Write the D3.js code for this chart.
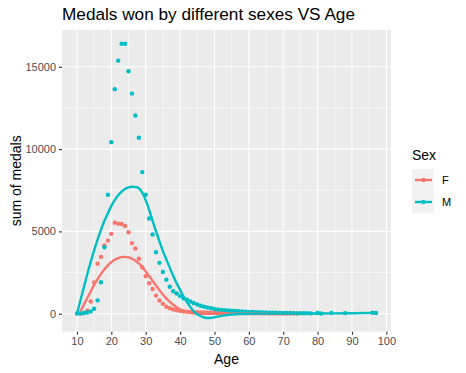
<!DOCTYPE html>
<html>
<head>
<meta charset="utf-8">
<script src="https://cdn.jsdelivr.net/npm/d3@7"></script>
<style>
  body { margin: 0; background: #fff; }
  text { font-family: "Liberation Sans", Arial, sans-serif; }
</style>
</head>
<body>
<div id="chart"></div>
<script>
// Data
//= ================================
var sexes = ["F", "M"];
var colors = ["#F8766D", "#00BFC4"];

var agesF = [11, 12, 13, 14, 15, 16, 17, 18, 19, 20, 21, 22, 23, 24, 25, 26, 27, 28, 29, 30,
  31, 32, 33, 34, 35, 36, 37, 38, 39, 40, 41, 42, 43, 44, 45, 46, 47, 48, 49, 50,
  51, 52, 53, 54, 55, 56, 57, 58, 59, 60, 61, 62, 63, 64, 65, 66, 67, 68, 69, 70, 71, 72, 73, 74];
var medalsF = [10, 40, 180, 745, 1900, 3030, 3450, 4150, 4440, 4850, 5530, 5470, 5450, 5330, 4950, 4290, 3960, 3340, 2820, 2280,
  1850, 1500, 1100, 800, 600, 430, 330, 260, 210, 170, 140, 120, 105, 95, 85, 75, 70, 65, 60, 55,
  50, 48, 45, 42, 40, 38, 35, 33, 30, 28, 26, 24, 22, 20, 18, 16, 15, 14, 12, 10, 10, 8, 8, 6];

var agesM = [10, 11, 12, 13, 14, 15, 16, 17, 18, 19, 20, 21, 22, 23, 24, 25, 26, 27, 28, 29, 30,
  31, 32, 33, 34, 35, 36, 37, 38, 39, 40, 41, 42, 43, 44, 45, 46, 47, 48, 49, 50,
  51, 52, 53, 54, 55, 56, 57, 58, 59, 60, 61, 62, 63, 64, 65, 66, 67, 68, 69, 70,
  71, 72, 73, 74, 75, 76, 77, 78, 80, 81, 84, 88, 96, 97];
var medalsM = [10, 20, 40, 70, 130, 300, 810, 1910, 4040, 7230, 10420, 13640, 15370, 16400, 16400, 14730, 13370, 12040, 10690, 8600, 7230,
  5780, 4810, 3730, 3090, 2530, 2070, 1640, 1360, 1230, 1070, 930, 850, 745, 640, 560, 485, 425, 380, 330, 290,
  260, 235, 215, 195, 175, 160, 145, 130, 120, 110, 100, 90, 85, 80, 75, 65, 60, 55, 50, 45,
  40, 40, 35, 30, 30, 25, 35, 20, 40, 15, 45, 35, 60, 45];

// smoothed (loess) curves as drawn
var smoothAgesF = [11, 12, 13, 14, 15, 16, 17, 18, 19, 20, 21, 22, 23, 24, 25, 26, 27, 28, 29, 30,
  31, 32, 33, 34, 35, 36, 37, 38, 39, 40, 41, 42, 43, 44, 45, 46, 47, 48, 50, 55, 60, 65, 70, 74];
var smoothF = [150, 550, 950, 1350, 1750, 2100, 2420, 2700, 2940, 3130, 3280, 3380, 3440, 3450, 3420, 3340, 3220, 3050, 2830, 2570,
  2290, 2000, 1710, 1430, 1170, 930, 720, 540, 390, 270, 180, 110, 60, 25, 5, -5, -10, -10, -5, 5, 10, 10, 5, 5];

var smoothAgesM = [10, 11, 12, 13, 14, 15, 16, 17, 18, 19, 20, 21, 22, 23, 24, 25, 26, 27, 28, 29, 30,
  31, 32, 33, 34, 35, 36, 37, 38, 39, 40, 41, 42, 43, 44, 45, 46, 47, 48, 49, 50,
  51, 52, 54, 57, 60, 70, 80, 90, 97];
var smoothM = [0, 800, 1600, 2400, 3150, 3850, 4500, 5100, 5650, 6100, 6550, 6900, 7200, 7420, 7580, 7670, 7710, 7700, 7620, 7350, 6900,
  6300, 5650, 5000, 4400, 3800, 3300, 2800, 2300, 1850, 1450, 1050, 700, 400, 150, -30, -150, -230, -260, -250, -220,
  -180, -130, -70, -20, 0, 10, 15, 30, 60];

var xTicks = [10, 20, 30, 40, 50, 60, 70, 80, 90, 100];
var xMinor = [15, 25, 35, 45, 55, 65, 75, 85, 95];
var yTicks = [0, 5000, 10000, 15000];
var yMinor = [2500, 7500, 12500];

// Step 1: Set up the chart
//= ================================
var svgWidth = 466;
var svgHeight = 373;

var margin = { top: 30, right: 75, bottom: 41.3, left: 62 };
var width = svgWidth - margin.left - margin.right;
var height = svgHeight - margin.top - margin.bottom;

var svg = d3.select("#chart")
  .append("svg")
  .attr("width", svgWidth)
  .attr("height", svgHeight);

var chartGroup = svg.append("g")
  .attr("transform", `translate(${margin.left}, ${margin.top})`);

// Step 2: Scales with ggplot-style 5% expansion
//= ================================
var allAges = agesF.concat(agesM);
var allVals = medalsF.concat(medalsM, smoothF, smoothM);
var xExt = d3.extent(allAges);
var yExt = d3.extent(allVals);
var xPad = (xExt[1] - xExt[0]) * 0.05;
var yPad = (yExt[1] - yExt[0]) * 0.05;

var xScale = d3.scaleLinear()
  .domain([xExt[0] - xPad, xExt[1] + xPad])
  .range([0, width]);

var yScale = d3.scaleLinear()
  .domain([yExt[0] - yPad, yExt[1] + yPad])
  .range([height, 0]);

// Step 3: Panel and grid
//= ================================
chartGroup.append("rect")
  .attr("width", width)
  .attr("height", height)
  .attr("fill", "#EBEBEB");

chartGroup.selectAll(".xminor")
  .data(xMinor)
  .enter()
  .append("line")
  .attr("x1", d => xScale(d))
  .attr("x2", d => xScale(d))
  .attr("y1", 0)
  .attr("y2", height)
  .attr("stroke", "#fff")
  .attr("stroke-width", 0.55);

chartGroup.selectAll(".yminor")
  .data(yMinor)
  .enter()
  .append("line")
  .attr("x1", 0)
  .attr("x2", width)
  .attr("y1", d => yScale(d))
  .attr("y2", d => yScale(d))
  .attr("stroke", "#fff")
  .attr("stroke-width", 0.55);

chartGroup.selectAll(".xmajor")
  .data(xTicks)
  .enter()
  .append("line")
  .attr("x1", d => xScale(d))
  .attr("x2", d => xScale(d))
  .attr("y1", 0)
  .attr("y2", height)
  .attr("stroke", "#fff")
  .attr("stroke-width", 1.1);

chartGroup.selectAll(".ymajor")
  .data(yTicks)
  .enter()
  .append("line")
  .attr("x1", 0)
  .attr("x2", width)
  .attr("y1", d => yScale(d))
  .attr("y2", d => yScale(d))
  .attr("stroke", "#fff")
  .attr("stroke-width", 1.1);

// Step 4: Axes
//= ================================
var bottomAxis = d3.axisBottom(xScale).tickValues(xTicks).tickSize(3).tickPadding(3);
var leftAxis = d3.axisLeft(yScale).tickValues(yTicks).tickSize(3).tickPadding(3)
  .tickFormat(d3.format("d"));

var xAxisG = chartGroup.append("g")
  .attr("transform", `translate(0, ${height})`)
  .call(bottomAxis);

var yAxisG = chartGroup.append("g")
  .call(leftAxis);

[xAxisG, yAxisG].forEach(function(g) {
  g.select(".domain").remove();
  g.selectAll(".tick line").attr("stroke", "#333333").attr("stroke-width", 1.1);
  g.selectAll(".tick text")
    .attr("fill", "#4D4D4D")
    .style("font-size", "11px")
    .style("font-family", "Liberation Sans, Arial, sans-serif");
});

// Step 5: Points and smooth lines
//= ================================
var pointSets = [
  { ages: agesF, vals: medalsF },
  { ages: agesM, vals: medalsM }
];
var smoothSets = [
  { ages: smoothAgesF, vals: smoothF },
  { ages: smoothAgesM, vals: smoothM }
];

pointSets.forEach(function(set, i) {
  chartGroup.append("g")
    .selectAll("circle")
    .data(set.ages)
    .enter()
    .append("circle")
    .attr("cx", d => xScale(d))
    .attr("cy", (d, j) => yScale(set.vals[j]))
    .attr("r", 2.2)
    .attr("fill", colors[i]);
});

var line = d3.line()
  .x(d => xScale(d[0]))
  .y(d => yScale(d[1]))
  .curve(d3.curveMonotoneX);

smoothSets.forEach(function(set, i) {
  chartGroup.append("path")
    .datum(set.ages.map((a, j) => [a, set.vals[j]]))
    .attr("d", line)
    .attr("fill", "none")
    .attr("stroke", colors[i])
    .attr("stroke-width", 2.4);
});

// Step 6: Titles
//= ================================
svg.append("text")
  .attr("x", 62)
  .attr("y", 20)
  .style("font-size", "17.2px")
  .attr("fill", "#000")
  .text("Medals won by different sexes VS Age");

svg.append("text")
  .attr("x", margin.left + width / 2)
  .attr("y", 364)
  .attr("text-anchor", "middle")
  .style("font-size", "14px")
  .text("Age");

svg.append("text")
  .attr("transform", `translate(21, ${margin.top + height / 2}) rotate(-90)`)
  .attr("text-anchor", "middle")
  .style("font-size", "14px")
  .text("sum of medals");

// Step 7: Legend
//= ================================
var legend = svg.append("g")
  .attr("transform", "translate(412, 0)");

legend.append("text")
  .attr("x", 0)
  .attr("y", 160)
  .style("font-size", "14px")
  .text("Sex");

var keys = legend.selectAll(".key")
  .data(sexes)
  .enter()
  .append("g")
  .attr("transform", (d, i) => `translate(0, ${169 + i * 22})`);

keys.append("rect")
  .attr("width", 22)
  .attr("height", 22)
  .attr("fill", "#F2F2F2");

keys.append("line")
  .attr("x1", 3)
  .attr("x2", 20)
  .attr("y1", 11)
  .attr("y2", 11)
  .attr("stroke", (d, i) => colors[i])
  .attr("stroke-width", 2.4);

keys.append("circle")
  .attr("cx", 11.5)
  .attr("cy", 11)
  .attr("r", 2.2)
  .attr("fill", (d, i) => colors[i]);

keys.append("text")
  .attr("x", 30)
  .attr("y", 15)
  .style("font-size", "11px")
  .attr("fill", "#000")
  .text(d => d);
</script>
</body>
</html>
